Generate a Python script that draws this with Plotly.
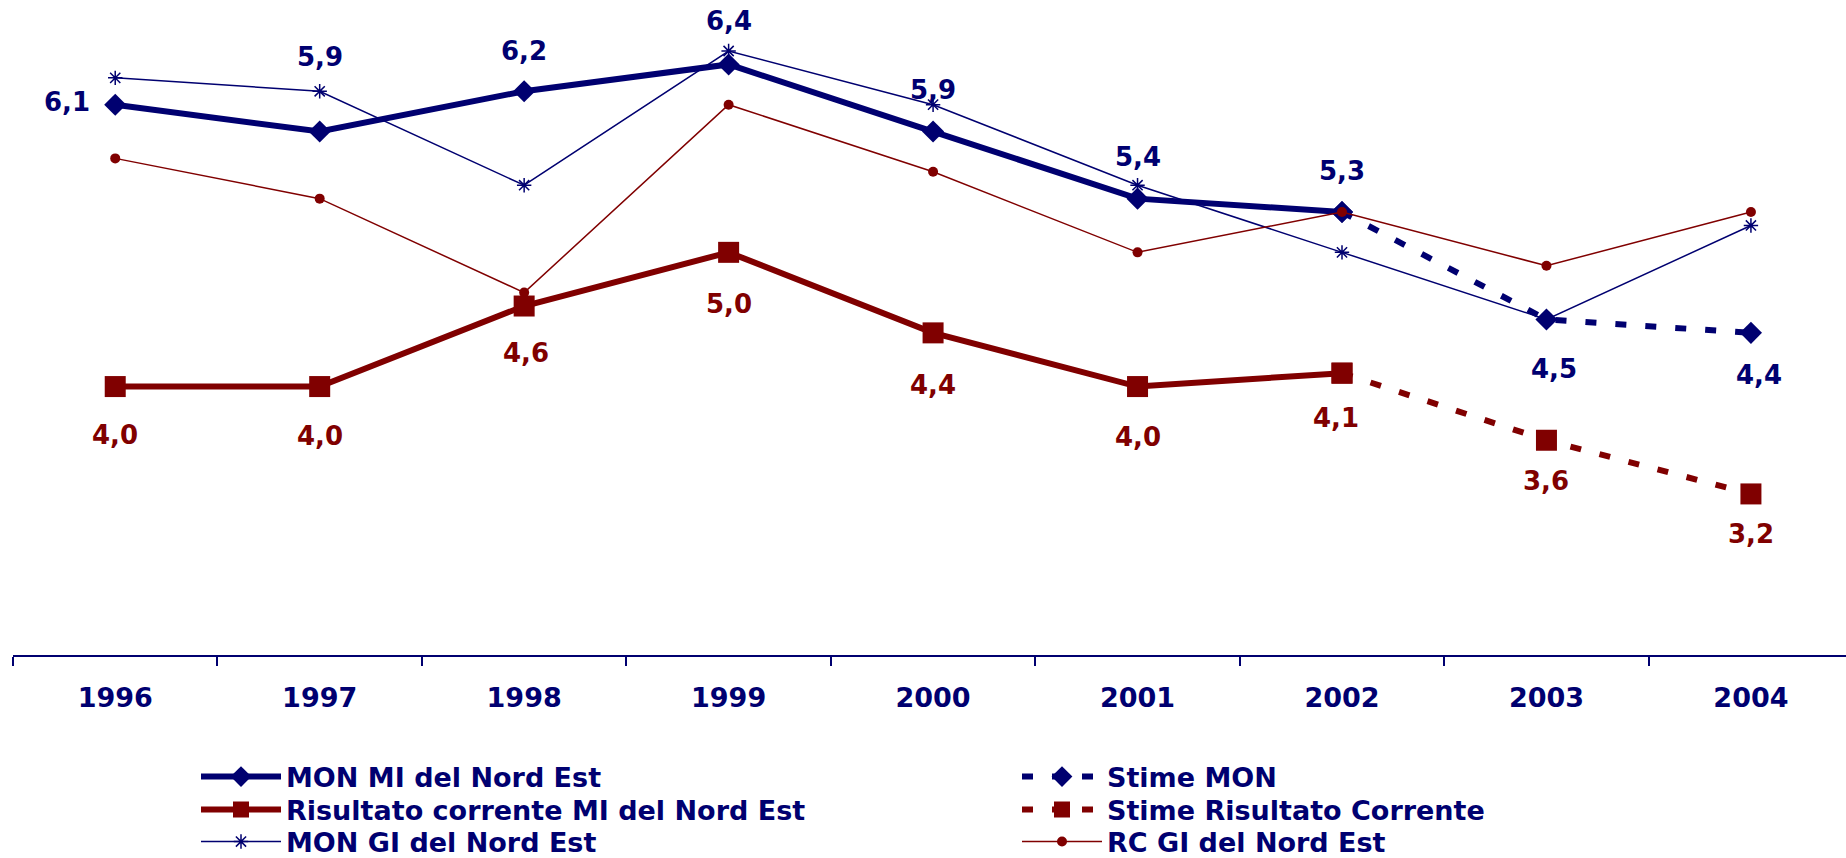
import plotly.graph_objects as go

years = ['1996', '1997', '1998', '1999', '2000', '2001', '2002', '2003', '2004']
mon_mi = [6.1, 5.9, 6.2, 6.4, 5.9, 5.4, 5.3, None, None]
stime_mon = [None, None, None, None, None, None, 5.3, 4.5, 4.4]
rc_mi = [4.0, 4.0, 4.6, 5.0, 4.4, 4.0, 4.1, None, None]
stime_rc = [None, None, None, None, None, None, 4.1, 3.6, 3.2]
mon_gi = [6.3, 6.2, 5.5, 6.5, 6.1, 5.5, 5.0, 4.5, 5.2]
rc_gi = [5.7, 5.4, 4.7, 6.1, 5.6, 5.0, 5.3, 4.9, 5.3]

NAVY = '#000070'
RED = '#800000'
FONT = 'DejaVu Sans'

fig = go.Figure()
fig.add_trace(go.Scatter(x=years, y=mon_mi, name='MON MI del Nord Est', mode='lines+markers',
                         line=dict(color=NAVY, width=6), marker=dict(symbol='diamond', size=17, color=NAVY),
                         legend='legend', legendrank=1))
fig.add_trace(go.Scatter(x=years, y=rc_mi, name='Risultato corrente MI del Nord Est', mode='lines+markers',
                         line=dict(color=RED, width=6), marker=dict(symbol='square', size=21, color=RED),
                         legend='legend2', legendrank=1))
fig.add_trace(go.Scatter(x=years, y=stime_mon, name='Stime MON', mode='lines+markers',
                         line=dict(color=NAVY, width=6, dash='11px,19px'),
                         marker=dict(symbol='diamond', size=17, color=NAVY), legend='legend', legendrank=2))
fig.add_trace(go.Scatter(x=years, y=stime_rc, name='Stime Risultato Corrente', mode='lines+markers',
                         line=dict(color=RED, width=6, dash='11px,19px'),
                         marker=dict(symbol='square', size=21, color=RED), legend='legend2', legendrank=2))
fig.add_trace(go.Scatter(x=years, y=mon_gi, name='MON GI del Nord Est', mode='lines+markers',
                         line=dict(color=NAVY, width=1.5),
                         marker=dict(symbol='asterisk-open', size=12, line=dict(color=NAVY, width=1.5)),
                         legend='legend3', legendrank=1))
fig.add_trace(go.Scatter(x=years, y=rc_gi, name='RC GI del Nord Est', mode='lines+markers',
                         line=dict(color=RED, width=1.5), marker=dict(symbol='circle', size=10, color=RED),
                         legend='legend3', legendrank=2))

# data labels: MON (MI, then estimates) above, risultato corrente below
mon_lab = [v if v is not None else s for v, s in zip(mon_mi, stime_mon)]
rc_lab = [v if v is not None else s for v, s in zip(rc_mi, stime_rc)]
mon_shift = [(-48, 3), (0, 75), (0, 40), (0, 43), (0, 42), (0, 42), (0, 41), (8, -50), (8, -42)]
rc_shift = [(0, -48), (0, -49), (2, -47), (0, -52), (0, -52), (0, -50), (-6, -45), (0, -41), (0, -40)]

# annotation x as category index (numeric-looking names would be read as positions)
for i, (v, (dx, dy)) in enumerate(zip(mon_lab, mon_shift)):
    fig.add_annotation(x=i, y=v, text=f'{v:.1f}'.replace('.', ','), showarrow=False,
                       xshift=dx, yshift=dy, font=dict(family=FONT, size=26, color=NAVY, weight='bold'))
for i, (v, (dx, dy)) in enumerate(zip(rc_lab, rc_shift)):
    fig.add_annotation(x=i, y=v, text=f'{v:.1f}'.replace('.', ','), showarrow=False,
                       xshift=dx, yshift=dy, font=dict(family=FONT, size=26, color=RED, weight='bold'))

# one legend per row so the rows can sit as close as in the original
def legend_row(center_px):
    return dict(orientation='h', xref='container', yref='container',
                x=196 / 1846, y=1 - center_px / 858, xanchor='left', yanchor='middle',
                itemwidth=80, entrywidth=726,
                font=dict(family=FONT, size=27, color=NAVY, weight='bold'),
                bgcolor='rgba(0,0,0,0)')

fig.update_layout(
    width=1846, height=858,
    margin=dict(l=13, r=0, t=0, b=203),
    plot_bgcolor='white', paper_bgcolor='white',
    xaxis=dict(type='category', range=[-0.5, 8.465], showgrid=False, zeroline=False,
               showline=True, linecolor=NAVY, linewidth=2,
               ticks='outside', tickson='boundaries', ticklen=9, tickwidth=1.5, tickcolor=NAVY,
               ticklabelstandoff=18,
               tickfont=dict(family=FONT, size=27, color=NAVY, weight='bold')),
    yaxis=dict(range=[2.0, 6.88], visible=False),
    showlegend=True,
    legend=legend_row(777),
    legend2=legend_row(810),
    legend3=legend_row(842),
)

fig.write_html('out.html', config={'displayModeBar': False},
               post_script="document.body.style.margin='0';")
